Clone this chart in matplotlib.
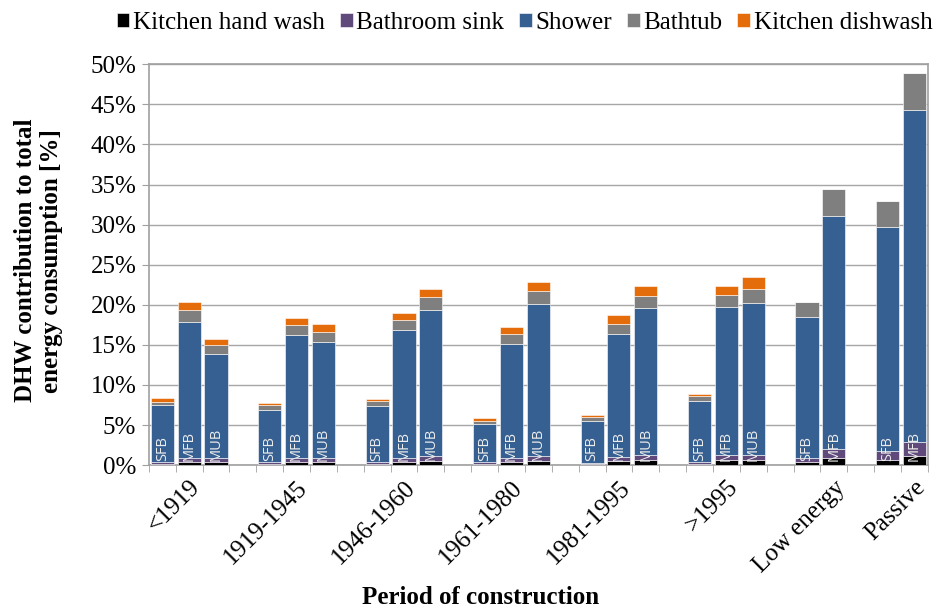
import matplotlib.pyplot as plt
import numpy as np

periods = ['<1919', '1919-1945', '1946-1960', '1961-1980', '1981-1995', '>1995',
           'Low energy', 'Passive']
building_types = [['SFB', 'MFB', 'MUB']] * 6 + [['SFB', 'MFB'], ['SFB', 'MFB']]

# contributions in % (one value per bar, bars in order of the chart)
hand_wash = [0.20, 0.37, 0.37, 0.20, 0.37, 0.37, 0.20, 0.37, 0.50, 0.17, 0.37,
             0.50, 0.17, 0.46, 0.62, 0.17, 0.62, 0.62, 0.37, 0.83, 0.62, 1.16]
bath_sink = [0.17, 0.50, 0.50, 0.17, 0.50, 0.50, 0.17, 0.50, 0.66, 0.16, 0.50,
             0.62, 0.13, 0.58, 0.62, 0.16, 0.66, 0.62, 0.58, 1.12, 1.08, 1.74]
shower = [7.10, 17.01, 12.95, 6.52, 15.31, 14.52, 6.97, 15.93, 18.18, 4.84, 14.28,
          19.02, 5.20, 15.28, 18.32, 7.70, 18.40, 18.98, 17.53, 29.11, 28.03, 41.45]
bathtub = [0.46, 1.46, 1.12, 0.62, 1.33, 1.17, 0.66, 1.33, 1.66, 0.33, 1.20,
           1.58, 0.53, 1.33, 1.58, 0.63, 1.54, 1.71, 1.87, 3.33, 3.20, 4.61]
dishwash = [0.41, 0.95, 0.79, 0.25, 0.87, 0.99, 0.22, 0.83, 0.95, 0.37, 0.82,
            1.08, 0.23, 1.04, 1.24, 0.20, 1.16, 1.53, 0.0, 0.0, 0.0, 0.0]

series = [('Kitchen hand wash', hand_wash, '#000000'),
          ('Bathroom sink', bath_sink, '#604A7B'),
          ('Shower', shower, '#376092'),
          ('Bathtub', bathtub, '#7F7F7F'),
          ('Kitchen dishwash', dishwash, '#E46C0A')]

# slot positions: one empty slot after each group
xpos, bar_names, label_x = [], [], []
pos = 0
for t in building_types:
    for j, name in enumerate(t):
        xpos.append(pos + j)
        bar_names.append(name)
    label_x.append(pos + 1)
    pos += len(t) + 1
n_slots = pos - 1

serif = ['Liberation Serif', 'DejaVu Serif']
fs = 18
fig = plt.figure(figsize=(9.42, 6.12), dpi=100)
ax = fig.add_axes([0.158, 0.240, 0.827, 0.655])

bottom = np.zeros(len(xpos))
for label, vals, color in series:
    vals = np.array(vals)
    ax.bar(xpos, vals, bottom=bottom, width=0.86, color=color, label=label,
           edgecolor='white', linewidth=0.4, zorder=3)
    bottom += vals

for x, name in zip(xpos, bar_names):
    ax.text(x, 0.55, name, rotation=90, ha='center', va='bottom', color='#EDEDED',
            fontsize=10.5, family='Open Sans', zorder=4)

ax.set_xlim(-0.5, n_slots - 0.5)
ax.set_ylim(0, 50)
ax.set_yticks(np.arange(0, 51, 5))
ax.set_yticklabels([f'{v}%' for v in range(0, 51, 5)], family=serif, fontsize=fs)
ax.set_xticks(label_x)
ax.set_xticklabels(periods, rotation=45, ha='right', rotation_mode='anchor',
                   family=serif, fontsize=fs)
ax.set_xticks(np.arange(-0.5, n_slots, 1), minor=True)
ax.tick_params(axis='x', which='major', length=0, pad=8)
ax.tick_params(axis='x', which='minor', length=5, color='#A0A0A0', direction='out')
ax.tick_params(axis='y', length=5, color='#A0A0A0', pad=4)
ax.grid(axis='y', color='#A6A6A6', linewidth=1, zorder=0)
for s in ax.spines.values():
    s.set_color('#A0A0A0')
    s.set_linewidth(1.2)

ax.set_ylabel('DHW contribution to total\nenergy consumption [%]', family=serif,
              fontsize=fs, fontweight='bold', linespacing=1.15)
ax.yaxis.set_label_coords(-0.11, 0.51)
fig.text(0.51, 0.005, 'Period of construction', family=serif, fontsize=fs,
         fontweight='bold', ha='center', va='bottom')

fig.legend(loc='upper center', bbox_to_anchor=(0.557, 1.005), ncol=5, frameon=False,
           prop={'family': serif, 'size': fs}, handlelength=0.5, handleheight=0.5,
           handletextpad=0.15, columnspacing=0.6, borderaxespad=0.2)

fig.savefig('out.png', dpi=100)
